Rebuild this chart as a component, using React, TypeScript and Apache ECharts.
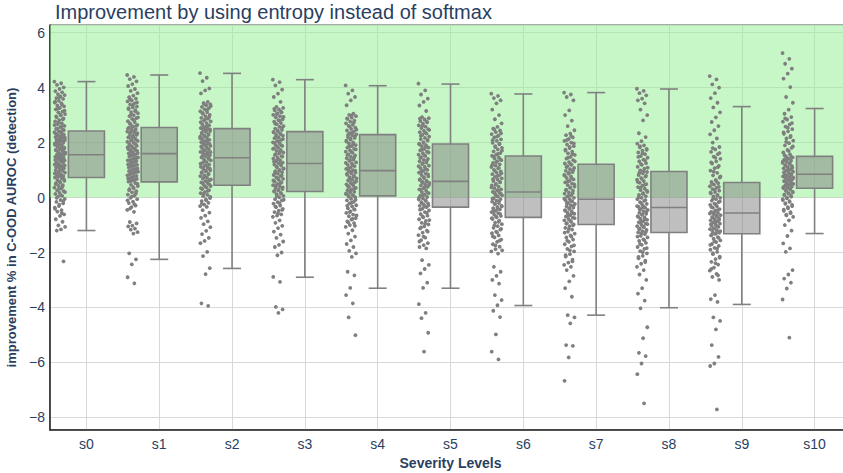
import React, { useEffect, useRef } from "react";
import * as echarts from "echarts";

const categories = ["s0", "s1", "s2", "s3", "s4", "s5", "s6", "s7", "s8", "s9", "s10"];

const whiskerHigh = [4.22, 4.46, 4.52, 4.29, 4.07, 4.13, 3.77, 3.82, 3.95, 3.31, 3.24];
const upperQuartile = [2.42, 2.55, 2.51, 2.4, 2.29, 1.95, 1.51, 1.21, 0.95, 0.55, 1.5];
const medianVal = [1.56, 1.6, 1.45, 1.24, 0.98, 0.59, 0.2, -0.06, -0.36, -0.56, 0.85];
const lowerQuartile = [0.73, 0.57, 0.45, 0.22, 0.06, -0.35, -0.72, -0.98, -1.27, -1.32, 0.34];
const whiskerLow = [-1.2, -2.25, -2.58, -2.9, -3.3, -3.3, -3.93, -4.28, -4.01, -3.89, -1.31];

const pts0 = [4.22, 4.16, 4.1, 4.01, 3.95, 3.87, 3.83, 3.76, 3.73, 3.68, 3.62, 3.59, 3.52, 3.46, 3.43, 3.35, 3.32, 3.26, 3.21, 3.13, 3.1, 3.04, 2.99, 2.92, 2.88, 2.82, 2.77, 2.7, 2.67, 2.61, 2.56, 2.5, 2.47, 2.42,
  2.38, 2.36, 2.3, 2.29, 2.23, 2.2, 2.17, 2.12, 2.09, 2.06, 2.01, 1.99, 1.94, 1.92, 1.87, 1.85, 1.79, 1.78, 1.72, 1.71, 1.65, 1.64, 1.58, 1.56,
  1.55, 1.49, 1.48, 1.42, 1.41, 1.35, 1.34, 1.28, 1.27, 1.21, 1.2, 1.14, 1.13, 1.07, 1.05, 1.0, 0.98, 0.92, 0.91, 0.85, 0.84, 0.78, 0.77, 0.73,
  0.7, 0.63, 0.61, 0.54, 0.52, 0.45, 0.42, 0.36, 0.33, 0.26, 0.23, 0.17, 0.13, 0.06, 0.03, -0.05, -0.09, -0.16, -0.21, -0.31, -0.37, -0.46, -0.51, -0.61, -0.67, -0.79, -0.88, -1.01, -1.07, -1.16, -1.2, -2.32];
const pts1 = [4.46, 4.39, 4.31, 4.23, 4.13, 4.06, 3.95, 3.88, 3.8, 3.71, 3.65, 3.6, 3.54, 3.5, 3.43, 3.39, 3.31, 3.28, 3.22, 3.18, 3.11, 3.07, 3.0, 2.96, 2.89, 2.86, 2.78, 2.75, 2.67, 2.64, 2.59,
  2.54, 2.49, 2.46, 2.4, 2.37, 2.31, 2.28, 2.22, 2.19, 2.15, 2.08, 2.06, 2.01, 1.95, 1.93, 1.86, 1.83, 1.79, 1.72, 1.7, 1.64, 1.61,
  1.57, 1.53, 1.46, 1.43, 1.36, 1.33, 1.28, 1.21, 1.18, 1.13, 1.06, 1.03, 0.96, 0.93, 0.88, 0.81, 0.78, 0.71, 0.68, 0.63, 0.58,
  0.53, 0.46, 0.42, 0.34, 0.31, 0.23, 0.19, 0.11, 0.07, -0.01, -0.06, -0.15, -0.2, -0.29, -0.35, -0.45, -0.52, -0.89, -0.94, -1.02, -1.05, -1.13, -1.17, -1.26, -1.31, -2.03, -2.25, -2.43, -2.9, -3.12];
const pts2 = [4.53, 4.36, 4.24, 3.97, 3.9, 3.79, 3.48, 3.44, 3.39, 3.36, 3.3, 3.25, 3.21, 3.14, 3.11, 3.05, 3.01, 2.96, 2.9, 2.87, 2.8, 2.77, 2.71, 2.66, 2.63, 2.57, 2.53,
  2.5, 2.46, 2.42, 2.39, 2.33, 2.31, 2.25, 2.22, 2.18, 2.13, 2.1, 2.04, 2.02, 1.96, 1.93, 1.88, 1.84, 1.8, 1.75, 1.72, 1.66, 1.63, 1.59, 1.54, 1.51, 1.46,
  1.43, 1.38, 1.35, 1.29, 1.26, 1.2, 1.17, 1.12, 1.08, 1.03, 0.99, 0.95, 0.9, 0.86, 0.81, 0.78, 0.72, 0.69, 0.63, 0.6, 0.55, 0.51, 0.46,
  0.42, 0.37, 0.31, 0.27, 0.2, 0.16, 0.1, 0.05, -0.02, -0.07, -0.13, -0.19, -0.26, -0.31, -0.34, -0.46, -0.55, -0.66, -0.74, -0.87, -0.97, -1.08, -1.21, -1.33, -1.47, -1.58, -1.66, -1.98, -2.13, -2.57, -2.79, -3.85, -3.94];
const pts3 = [4.29, 4.2, 4.08, 3.93, 3.78, 3.66, 3.48, 3.3, 3.26, 3.21, 3.17, 3.1, 3.07, 3.01, 2.96, 2.92, 2.85, 2.82, 2.76, 2.71, 2.67, 2.6, 2.57, 2.51, 2.46, 2.41,
  2.37, 2.33, 2.28, 2.25, 2.19, 2.16, 2.1, 2.06, 2.01, 1.97, 1.92, 1.88, 1.82, 1.79, 1.73, 1.7, 1.64, 1.6, 1.55, 1.51, 1.46, 1.42, 1.36, 1.33, 1.27, 1.25,
  1.2, 1.16, 1.1, 1.06, 1.01, 0.96, 0.92, 0.87, 0.82, 0.78, 0.73, 0.68, 0.64, 0.58, 0.55, 0.49, 0.45, 0.4, 0.35, 0.31, 0.26, 0.22,
  0.17, 0.12, 0.06, 0.01, -0.06, -0.1, -0.17, -0.22, -0.29, -0.35, -0.41, -0.48, -0.53, -0.61, -0.66, -0.7, -0.83, -0.92, -1.03, -1.11, -1.24, -1.35, -1.47, -1.6, -1.72, -1.8, -2.0, -2.1, -2.89, -3.07, -3.98, -4.07, -4.2];
const pts4 = [4.08, 3.9, 3.78, 3.66, 3.54, 3.36, 3.05, 3.01, 2.96, 2.91, 2.86, 2.8, 2.76, 2.7, 2.65, 2.61, 2.54, 2.5, 2.44, 2.4, 2.34, 2.3,
  2.26, 2.2, 2.17, 2.11, 2.07, 2.01, 1.97, 1.91, 1.87, 1.82, 1.77, 1.72, 1.67, 1.63, 1.57, 1.53, 1.48, 1.43, 1.38, 1.34, 1.28, 1.24, 1.19, 1.14, 1.09, 1.04, 1.0,
  0.96, 0.91, 0.88, 0.83, 0.79, 0.74, 0.7, 0.65, 0.62, 0.56, 0.53, 0.48, 0.44, 0.39, 0.35, 0.3, 0.27, 0.21, 0.18, 0.13, 0.09, 0.06,
  0.01, -0.05, -0.1, -0.16, -0.21, -0.28, -0.32, -0.39, -0.44, -0.5, -0.56, -0.62, -0.68, -0.75, -0.8, -0.87, -0.93, -1.0, -1.07, -1.19, -1.31, -1.42, -1.56, -1.69, -1.8, -1.94, -2.03, -2.16, -2.7, -2.83, -3.29, -3.55, -3.85, -4.36, -5.01];
const pts5 = [4.15, 3.9, 3.75, 3.6, 3.48, 3.35, 3.15, 2.93, 2.89, 2.84, 2.78, 2.74, 2.69, 2.63, 2.58, 2.53, 2.49, 2.43, 2.38, 2.33, 2.28, 2.22, 2.17, 2.13, 2.07, 2.02, 1.96,
  1.91, 1.87, 1.82, 1.77, 1.72, 1.67, 1.62, 1.56, 1.52, 1.47, 1.41, 1.37, 1.32, 1.27, 1.22, 1.16, 1.12, 1.07, 1.01, 0.97, 0.91, 0.87, 0.82, 0.77, 0.71, 0.67, 0.61,
  0.57, 0.53, 0.48, 0.44, 0.39, 0.34, 0.3, 0.25, 0.2, 0.16, 0.11, 0.07, 0.02, -0.03, -0.07, -0.12, -0.17, -0.21, -0.26, -0.3, -0.35,
  -0.41, -0.47, -0.53, -0.6, -0.66, -0.72, -0.79, -0.85, -0.92, -0.98, -1.05, -1.12, -1.2, -1.28, -1.37, -1.46, -1.55, -1.66, -1.73, -1.8, -1.85, -2.28, -2.45, -2.6, -2.76, -3.1, -3.29, -3.88, -4.2, -4.39, -4.92, -5.61];
const pts6 = [3.78, 3.7, 3.62, 3.54, 3.43, 3.2, 3.0, 2.85, 2.7, 2.57, 2.51, 2.44, 2.38, 2.31, 2.25, 2.19, 2.12, 2.06, 1.99, 1.94, 1.87, 1.81, 1.75, 1.68, 1.62, 1.56, 1.52,
  1.46, 1.42, 1.36, 1.32, 1.26, 1.21, 1.16, 1.11, 1.06, 1.01, 0.95, 0.91, 0.85, 0.81, 0.75, 0.7, 0.65, 0.6, 0.55, 0.5, 0.44, 0.4, 0.34, 0.3, 0.25, 0.21,
  0.17, 0.12, 0.08, 0.03, -0.02, -0.06, -0.11, -0.15, -0.2, -0.24, -0.3, -0.34, -0.39, -0.43, -0.48, -0.53, -0.57, -0.62, -0.67, -0.72,
  -0.78, -0.84, -0.91, -0.97, -1.04, -1.1, -1.17, -1.24, -1.3, -1.38, -1.45, -1.53, -1.61, -1.7, -1.79, -1.88, -1.96, -2.04, -2.52, -2.7, -2.85, -3.0, -3.13, -3.55, -3.73, -3.92, -4.12, -4.35, -4.98, -5.61, -5.89];
const pts7 = [3.82, 3.75, 3.66, 3.54, 3.17, 3.0, 2.8, 2.6, 2.45, 2.33, 2.27, 2.19, 2.13, 2.06, 2.0, 1.93, 1.87, 1.8, 1.74, 1.67, 1.61, 1.55, 1.48, 1.42, 1.36, 1.29, 1.24,
  1.19, 1.14, 1.08, 1.03, 0.97, 0.93, 0.87, 0.82, 0.77, 0.71, 0.66, 0.61, 0.55, 0.51, 0.45, 0.4, 0.35, 0.29, 0.25, 0.19, 0.14, 0.09, 0.03, -0.01, -0.06,
  -0.1, -0.14, -0.19, -0.23, -0.28, -0.32, -0.37, -0.41, -0.46, -0.5, -0.55, -0.59, -0.64, -0.69, -0.73, -0.78, -0.83, -0.88, -0.93, -0.98,
  -1.04, -1.1, -1.17, -1.24, -1.31, -1.38, -1.45, -1.53, -1.61, -1.7, -1.78, -1.87, -1.96, -2.06, -2.15, -2.26, -2.37, -2.45, -2.52, -2.64, -2.85, -3.05, -3.3, -3.61, -4.28, -4.36, -4.58, -5.37, -5.4, -5.82, -6.67];
const pts8 = [3.96, 3.88, 3.8, 3.72, 3.6, 3.54, 3.43, 3.2, 3.0, 2.81, 2.34, 2.2, 2.05, 1.96, 1.9, 1.83, 1.77, 1.71, 1.64, 1.58, 1.51, 1.45, 1.38, 1.32, 1.25, 1.19, 1.12, 1.05, 0.99,
  0.93, 0.88, 0.82, 0.76, 0.71, 0.65, 0.6, 0.54, 0.49, 0.43, 0.38, 0.32, 0.27, 0.21, 0.16, 0.1, 0.05, -0.01, -0.06, -0.12, -0.17, -0.23, -0.28, -0.33, -0.37,
  -0.41, -0.45, -0.5, -0.55, -0.59, -0.63, -0.68, -0.72, -0.77, -0.81, -0.86, -0.9, -0.95, -0.99, -1.04, -1.08, -1.13, -1.18, -1.22, -1.27,
  -1.33, -1.39, -1.45, -1.52, -1.58, -1.65, -1.72, -1.8, -1.87, -1.95, -2.03, -2.12, -2.21, -2.3, -2.41, -2.52, -2.64, -2.8, -3.0, -3.3, -3.5, -3.75, -4.03, -4.72, -5.12, -5.65, -5.77, -6.04, -6.43, -7.49];
const pts9 = [4.42, 4.3, 4.12, 4.0, 3.8, 3.62, 3.45, 3.28, 3.1, 2.92, 2.75, 2.6, 2.45, 2.3, 2.15, 2.0, 1.84, 1.75, 1.66, 1.58, 1.49, 1.41, 1.32, 1.24, 1.15, 1.07, 0.98, 0.9, 0.81, 0.73, 0.64, 0.57,
  0.52, 0.47, 0.41, 0.36, 0.31, 0.25, 0.2, 0.15, 0.1, 0.04, -0.01, -0.06, -0.11, -0.17, -0.22, -0.27, -0.32, -0.37, -0.42, -0.47, -0.52, -0.56,
  -0.6, -0.64, -0.68, -0.71, -0.75, -0.79, -0.83, -0.87, -0.91, -0.95, -0.99, -1.03, -1.07, -1.11, -1.15, -1.19, -1.24, -1.28, -1.32,
  -1.38, -1.44, -1.5, -1.56, -1.62, -1.69, -1.76, -1.83, -1.9, -1.98, -2.06, -2.15, -2.24, -2.34, -2.44, -2.55, -2.66, -2.78, -2.89, -3.0, -3.55, -3.7, -3.8, -4.36, -4.49, -4.8, -5.37, -5.8, -6.04, -6.13, -7.71];
const pts10 = [5.26, 5.05, 4.87, 4.69, 4.51, 4.33, 4.02, 3.66, 3.45, 3.2, 3.05, 2.93, 2.84, 2.76, 2.66, 2.58, 2.49, 2.41, 2.32, 2.24, 2.15, 2.07, 1.98, 1.9, 1.81, 1.73, 1.64, 1.57,
  1.5, 1.46, 1.42, 1.38, 1.34, 1.3, 1.26, 1.22, 1.18, 1.14, 1.1, 1.06, 1.02, 0.98, 0.94, 0.9, 0.86,
  0.83, 0.8, 0.77, 0.73, 0.7, 0.67, 0.63, 0.6, 0.57, 0.53, 0.5, 0.47, 0.43, 0.4, 0.37, 0.34,
  0.29, 0.24, 0.19, 0.14, 0.09, 0.03, -0.03, -0.09, -0.16, -0.23, -0.31, -0.39, -0.48, -0.57, -0.65, -0.7, -0.83, -1.0, -1.2, -1.4, -1.67, -1.85, -1.98, -2.64, -2.8, -2.95, -3.1, -3.31, -3.71, -5.1];

const dense0 = [3.65, 3.49, 3.38, 3.24, 3.16, 3.02, 2.95, 2.85, 2.74, 2.64, 2.58, 2.52, 2.45, 2.4, 2.33, 2.27, 2.25, 2.18, 2.14, 2.1, 2.04, 2.0, 1.97, 1.9, 1.89, 1.82, 1.76, 1.74, 1.68, 1.62, 1.6, 1.53, 1.51, 1.45, 1.38, 1.37, 1.31, 1.24, 1.17, 1.16, 1.1, 1.03, 0.95, 0.88, 0.81, 0.75, 0.67, 0.58, 0.49, 0.39, 0.29, 0.2, 0.09, -0.01, -0.12, -0.26, -0.41, -0.57];
const dense1 = [3.57, 3.46, 3.35, 3.25, 3.14, 3.03, 2.92, 2.82, 2.71, 2.61, 2.56, 2.51, 2.43, 2.38, 2.34, 2.25, 2.2, 2.12, 2.1, 2.03, 1.98, 1.9, 1.88, 1.81, 1.76, 1.74, 1.67, 1.62, 1.55, 1.5, 1.44, 1.39, 1.35, 1.3, 1.24, 1.19, 1.15, 1.09, 1.04, 0.99, 0.94, 0.9, 0.84, 0.79, 0.74, 0.69, 0.65, 0.6, 0.5, 0.38, 0.27, 0.15, 0.03, -0.1, -0.24, -0.4];
const dense2 = [3.41, 3.33, 3.18, 3.08, 2.93, 2.84, 2.74, 2.6, 2.55, 2.48, 2.44, 2.36, 2.28, 2.24, 2.16, 2.07, 2.0, 1.95, 1.91, 1.86, 1.78, 1.69, 1.65, 1.56, 1.49, 1.41, 1.32, 1.23, 1.15, 1.1, 1.05, 0.97, 0.92, 0.84, 0.75, 0.66, 0.58, 0.53, 0.48, 0.4, 0.34, 0.24, 0.13, 0.02, -0.1, -0.22];
const dense3 = [3.23, 3.13, 3.04, 2.94, 2.8, 2.69, 2.54, 2.44, 2.39, 2.31, 2.22, 2.13, 2.04, 1.99, 1.9, 1.85, 1.77, 1.67, 1.58, 1.49, 1.4, 1.31, 1.22, 1.13, 1.04, 0.98, 0.9, 0.8, 0.71, 0.62, 0.52, 0.43, 0.37, 0.28, 0.24, 0.14, 0.04, -0.08, -0.2, -0.32, -0.45, -0.58];
const dense4 = [2.98, 2.88, 2.73, 2.58, 2.47, 2.37, 2.28, 2.23, 2.14, 2.04, 1.94, 1.85, 1.75, 1.65, 1.55, 1.46, 1.36, 1.26, 1.17, 1.07, 0.98, 0.93, 0.86, 0.77, 0.67, 0.59, 0.5, 0.42, 0.33, 0.24, 0.15, 0.08, 0.03, -0.08, -0.19, -0.3, -0.42, -0.53, -0.65, -0.78, -0.9, -1.03];
const dense5 = [2.87, 2.76, 2.61, 2.46, 2.36, 2.25, 2.1, 1.99, 1.94, 1.85, 1.75, 1.64, 1.54, 1.44, 1.35, 1.25, 1.14, 1.04, 0.94, 0.84, 0.74, 0.64, 0.59, 0.55, 0.46, 0.37, 0.28, 0.18, 0.09, 0.0, -0.1, -0.19, -0.28, -0.33, -0.44, -0.56, -0.69, -0.82, -0.95, -1.09, -1.24, -1.42, -1.6];
const dense6 = [2.47, 2.34, 2.22, 2.09, 1.96, 1.84, 1.71, 1.59, 1.49, 1.39, 1.29, 1.18, 1.08, 0.98, 0.88, 0.78, 0.67, 0.57, 0.47, 0.37, 0.27, 0.19, 0.14, 0.05, -0.04, -0.13, -0.22, -0.32, -0.41, -0.5, -0.6, -0.69, -0.75, -0.88, -1.01, -1.14, -1.27, -1.41, -1.57, -1.74, -1.92];
const dense7 = [2.23, 2.1, 1.97, 1.84, 1.71, 1.58, 1.45, 1.32, 1.22, 1.11, 1.0, 0.9, 0.79, 0.69, 0.58, 0.48, 0.37, 0.27, 0.16, 0.06, -0.04, -0.12, -0.21, -0.3, -0.39, -0.48, -0.57, -0.66, -0.75, -0.85, -0.95, -1.01, -1.14, -1.28, -1.42, -1.57, -1.74, -1.92, -2.1, -2.32];
const dense8 = [1.87, 1.74, 1.61, 1.48, 1.35, 1.22, 1.09, 0.96, 0.9, 0.79, 0.68, 0.57, 0.46, 0.35, 0.24, 0.13, 0.02, -0.09, -0.2, -0.31, -0.35, -0.43, -0.52, -0.61, -0.7, -0.79, -0.88, -0.97, -1.06, -1.15, -1.25, -1.3, -1.42, -1.55, -1.69, -1.84, -1.99, -2.16, -2.35];
const dense9 = [1.8, 1.62, 1.45, 1.28, 1.11, 0.94, 0.77, 0.6, 0.5, 0.39, 0.28, 0.18, 0.07, -0.04, -0.14, -0.25, -0.35, -0.45, -0.54, -0.58, -0.66, -0.73, -0.81, -0.89, -0.97, -1.05, -1.13, -1.22, -1.3, -1.35, -1.47, -1.59, -1.72, -1.86, -2.02, -2.19, -2.39, -2.6, -2.83];
const dense10 = [2.88, 2.71, 2.54, 2.37, 2.2, 2.03, 1.86, 1.69, 1.54, 1.48, 1.4, 1.32, 1.24, 1.16, 1.08, 1.0, 0.92, 0.85, 0.78, 0.72, 0.65, 0.58, 0.52, 0.45, 0.38, 0.32, 0.27, 0.21, 0.16, 0.11, 0.06, 0.0, -0.06, -0.13, -0.2, -0.27, -0.35, -0.44, -0.53, -0.62];

const pointSets = [
  pts0.concat(dense0), pts1.concat(dense1), pts2.concat(dense2), pts3.concat(dense3),
  pts4.concat(dense4), pts5.concat(dense5), pts6.concat(dense6), pts7.concat(dense7),
  pts8.concat(dense8), pts9.concat(dense9), pts10.concat(dense10),
];

const Y_MIN = -8.46;
const Y_MAX = 6.28;
const TEXT = "#2a3f5f";

export default function App() {
  const ref = useRef<HTMLDivElement>(null);

  useEffect(() => {
    document.body.style.margin = "0";
    const chart = echarts.init(ref.current!, undefined, { renderer: "svg" });

    const jitter = (k: number) => ((((k * 0.618034) % 1) - 0.5) * 0.15);
    const scatterData: number[][] = [];
    pointSets.forEach((vals, i) => {
      vals.forEach((v, k) => scatterData.push([i - 0.365 + jitter(k), v]));
    });
    const boxData = categories.map((_, i) => [
      i, whiskerLow[i], lowerQuartile[i], medianVal[i], upperQuartile[i], whiskerHigh[i],
    ]);

    const option: any = {
      animation: false,
      textStyle: { fontFamily: "Liberation Sans, Arial, sans-serif" },
      title: {
        text: "Improvement by using entropy instead of softmax",
        left: 50,
        top: -3,
        textStyle: { fontSize: 20, fontWeight: "normal", color: TEXT },
      },
      grid: {
        left: 50, right: -8, top: 25, bottom: 43,
        outerBoundsMode: "none",
        containLabel: false,
        show: true, borderColor: "#555", borderWidth: 1, backgroundColor: "transparent",
      },
      xAxis: [
        {
          type: "category",
          data: categories,
          position: "bottom",
          axisLine: { show: true, onZero: false, lineStyle: { color: "#222", width: 1.5 } },
          axisTick: { show: false },
          axisLabel: { color: TEXT, fontSize: 14, margin: 7 },
          splitLine: { show: false },
          name: "Severity Levels",
          nameLocation: "middle",
          nameGap: 25,
          nameTextStyle: { color: TEXT, fontSize: 14, fontWeight: "bold" },
        },
        {
          type: "value",
          min: -0.5,
          max: 10.5,
          splitNumber: 11,
          position: "bottom",
          axisLine: { show: false, onZero: false },
          axisTick: { show: false },
          axisLabel: { show: false },
          splitLine: { show: true, lineStyle: { color: "#d9d9d9", width: 1 } },
        },
      ],
      yAxis: {
        type: "value",
        min: Y_MIN,
        max: Y_MAX,
        splitNumber: 7,
        axisLine: { show: true, onZero: false, lineStyle: { color: "#222", width: 1.5 } },
        axisTick: { show: false },
        axisLabel: {
          color: TEXT, fontSize: 14, margin: 5,
          showMinLabel: false, showMaxLabel: false,
          formatter: (v: number) => String(v).replace("-", "\u2212"),
        },
        splitLine: { show: true, lineStyle: { color: "#d9d9d9", width: 1 } },
        name: "improvement % in C-OOD AUROC (detection)",
        nameLocation: "middle",
        nameGap: 29,
        nameTextStyle: { color: TEXT, fontSize: 13, fontWeight: "bold" },
      },
      series: [
        {
          type: "scatter",
          xAxisIndex: 1,
          data: [],
          z: 1,
          markArea: {
            silent: true,
            itemStyle: { color: "rgba(144,238,144,0.5)" },
            data: [[{ yAxis: 0 }, { yAxis: Y_MAX }]],
          },
        },
        {
          type: "custom",
          xAxisIndex: 1,
          z: 3,
          data: boxData,
          encode: { x: 0, y: [1, 2, 3, 4, 5] },
          renderItem: (params: any, api: any) => {
            const i = api.value(0);
            const x = api.coord([i, 0])[0];
            const yLow = api.coord([i, api.value(1)])[1];
            const yQ1 = api.coord([i, api.value(2)])[1];
            const yMed = api.coord([i, api.value(3)])[1];
            const yQ3 = api.coord([i, api.value(4)])[1];
            const yHigh = api.coord([i, api.value(5)])[1];
            const band = api.size([1, 0])[0];
            const bw = band * 0.495;
            const cw = bw * 0.5;
            const ls = { stroke: "#808080", lineWidth: 1.6, fill: "none" };
            return {
              type: "group",
              children: [
                { type: "line", shape: { x1: x, y1: yQ3, x2: x, y2: yHigh }, style: ls },
                { type: "line", shape: { x1: x, y1: yQ1, x2: x, y2: yLow }, style: ls },
                { type: "line", shape: { x1: x - cw / 2, y1: yHigh, x2: x + cw / 2, y2: yHigh }, style: ls },
                { type: "line", shape: { x1: x - cw / 2, y1: yLow, x2: x + cw / 2, y2: yLow }, style: ls },
                {
                  type: "rect",
                  shape: { x: x - bw / 2, y: yQ3, width: bw, height: yQ1 - yQ3 },
                  style: { fill: "rgba(128,128,128,0.5)", stroke: "#808080", lineWidth: 1.6 },
                },
                { type: "line", shape: { x1: x - bw / 2, y1: yMed, x2: x + bw / 2, y2: yMed }, style: ls },
              ],
            };
          },
        },
        {
          type: "scatter",
          xAxisIndex: 1,
          z: 4,
          symbolSize: 3.8,
          itemStyle: { color: "#7f7f7f", opacity: 1 },
          data: scatterData,
        },
      ],
    };

    chart.setOption(option);
    return () => chart.dispose();
  }, []);

  return <div ref={ref} style={{ width: 843, height: 473 }} />;
}
